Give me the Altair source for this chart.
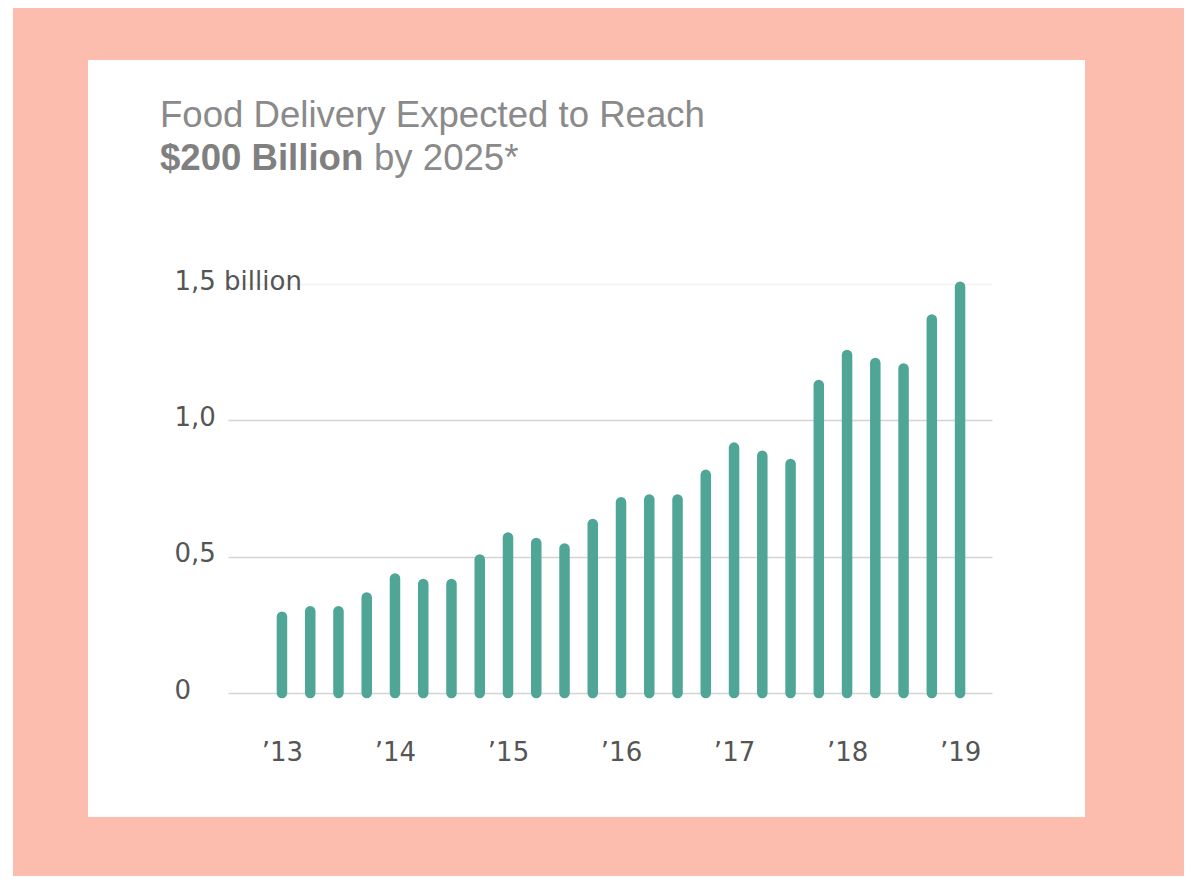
import altair as alt
import pandas as pd

# ---- data ----
quarters = [f"{y} Q{q}" for y in range(2013, 2019) for q in range(1, 5)] + ["2019 Q1"]
values = [0.28, 0.30, 0.30, 0.35, 0.42, 0.40, 0.40, 0.49,
          0.57, 0.55, 0.53, 0.62, 0.70, 0.71, 0.71, 0.80,
          0.90, 0.87, 0.84, 1.13, 1.24, 1.21, 1.19, 1.37, 1.49]
year_labels = ["’13", "’14", "’15", "’16", "’17", "’18", "’19"]
year_tick_idx = [0, 4, 8, 12, 16, 20, 24]
y_ticks = [0, 0.5, 1.0, 1.5]
y_labels = ["0", "0,5", "1,0", "1,5 billion"]
title_line1 = ["Food Delivery Expected to Reach"]
title_bold = ["$200 Billion"]
title_rest = ["by 2025*"]

df = pd.DataFrame({"quarter": quarters, "idx": list(range(len(quarters))), "value": values})

W, H = 764, 409
SALMON = "#FDBDAE"
TEAL = "#4FA596"
GRAY_T = "#8a8a8a"
LABEL = "#555555"
AXFONT = "DejaVu Sans"

xlab_expr = "[" + ",".join(f"'{s}'" for s in year_labels) + "][round(datum.value/4)]"
ylab_expr = "[" + ",".join(f"'{s}'" for s in y_labels) + "][round(datum.value*2)]"

# ---- salmon frame around the white card ----
one = pd.DataFrame({"a": [0]})
def frame(x0, x1, y0, y1):
    return alt.Chart(one).mark_rect(color=SALMON).encode(
        x=alt.value(x0), x2=alt.value(x1), y=alt.value(y0), y2=alt.value(y1))

frames = [
    frame(-215, -140, -276, 592),
    frame(857, 956, -276, 592),
    frame(-215, 956, -276, -224),
    frame(-215, 956, 533, 592),
]

bars = alt.Chart(df).mark_rule(strokeWidth=10.5, strokeCap="round", color=TEAL).encode(
    x=alt.X("idx:Q",
            scale=alt.Scale(domain=[-1.91, 25.13], nice=False, zero=False),
            axis=alt.Axis(values=year_tick_idx, labelExpr=xlab_expr, title=None,
                          grid=False, domain=False, ticks=False, tickSize=0,
                          labelPadding=59, labelBaseline="middle", labelAlign="center",
                          labelFlush=False, labelFont=AXFONT, labelFontSize=26,
                          labelColor=LABEL)),
    y=alt.Y("value:Q",
            scale=alt.Scale(domain=[0, 1.5], nice=False),
            axis=alt.Axis(values=y_ticks, labelExpr=ylab_expr, title=None,
                          domain=False, ticks=False, tickSize=0,
                          labelPadding=54, labelAlign="left", labelBaseline="middle",
                          labelOffset=-3,
                          labelFont=AXFONT, labelFontSize=26,
                          labelColor=LABEL, labelOverlap=False,
                          gridColor={"condition": {"test": "datum.value === 1.5", "value": "#f1f1f1"},
                                     "value": "#d4d4d4"},
                          gridWidth=1.5)),
    y2=alt.datum(0),
    tooltip=["quarter:N", "value:Q"],
)

t1 = alt.Chart(pd.DataFrame({"t": title_line1})).mark_text(
    align="left", baseline="alphabetic", font="Liberation Sans", fontSize=36.6,
    color=GRAY_T).encode(text="t:N", x=alt.value(-68), y=alt.value(-157))
t2 = alt.Chart(pd.DataFrame({"t": title_bold})).mark_text(
    align="left", baseline="alphabetic", font="Liberation Sans", fontSize=36.6,
    fontWeight="bold", color="#808080").encode(text="t:N", x=alt.value(-68), y=alt.value(-114))
t3 = alt.Chart(pd.DataFrame({"t": title_rest})).mark_text(
    align="left", baseline="alphabetic", font="Liberation Sans", fontSize=36.6,
    color=GRAY_T).encode(text="t:N", x=alt.value(146), y=alt.value(-114))

chart = alt.layer(bars, t1, t2, t3, *frames).properties(
    width=W, height=H,
    autosize=alt.AutoSizeParams(type="none"),
    padding={"left": 220, "top": 276, "right": 192, "bottom": 183},
    background="white",
).configure_view(stroke=None)

chart.save("out.html", embed_options={"renderer": "svg", "actions": False})
